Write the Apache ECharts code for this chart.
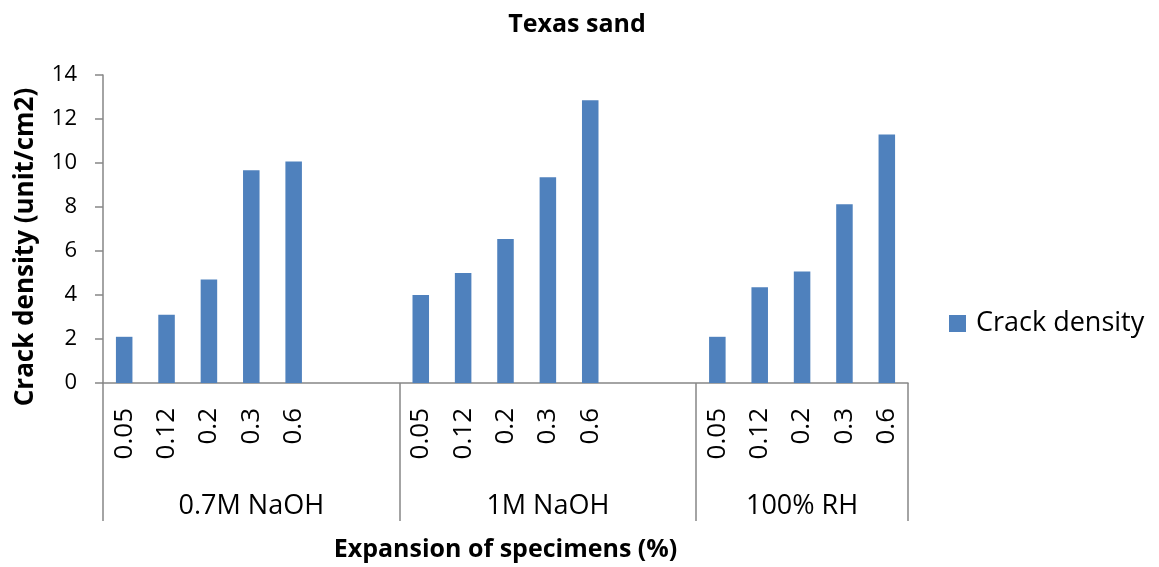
<!DOCTYPE html>
<html>
<head>
<meta charset="utf-8">
<title>Texas sand</title>
<script src="https://cdn.jsdelivr.net/npm/echarts@6/dist/echarts.min.js"></script>
<style>
  html, body { margin: 0; padding: 0; background: #ffffff; }
  #chart { width: 1159px; height: 567px; }
</style>
</head>
<body>
<div id="chart"></div>
<script>
// Exposure conditions and the number of category slots each one occupies
const groupNames = ['0.7M NaOH', '1M NaOH', '100% RH'];
const groupSlots = [7, 7, 5];

// Expansion levels (%) along the axis; empty strings are spacer slots
const expansionLabels = [
  '0.05', '0.12', '0.2', '0.3', '0.6', '', '',
  '0.05', '0.12', '0.2', '0.3', '0.6', '', '',
  '0.05', '0.12', '0.2', '0.3', '0.6'
];

// Crack density (unit/cm2) per slot
const crackDensity = [
  2.1, 3.1, 4.7, 9.67, 10.07, null, null,
  4.0, 5.0, 6.55, 9.35, 12.85, null, null,
  2.1, 4.35, 5.07, 8.12, 11.3
];

// Y axis tick settings
const yMin = 0;
const yMax = 14;
const yStep = 2;

// Group label sits on the middle slot of its block; dividers sit on block edges
const groupAxisData = [];
const groupStarts = [];
let start = 0;
groupSlots.forEach(function (n, g) {
  groupStarts.push(start);
  for (let i = 0; i < n; i++) {
    groupAxisData.push(i === Math.floor(n / 2) ? groupNames[g] : '');
  }
  start += n;
});

const FONT = '"Open Sans", "Liberation Sans", sans-serif';
const AXIS_GREY = '#868686';

const chart = echarts.init(document.getElementById('chart'), null, { renderer: 'canvas' });

chart.setOption({
  animation: false,
  backgroundColor: '#ffffff',
  textStyle: { fontFamily: FONT },
  title: {
    text: 'Texas sand',
    left: 572,
    textAlign: 'center',
    top: 7,
    textStyle: { fontFamily: FONT, fontSize: 25, fontWeight: 'bold', color: '#000000' }
  },
  legend: {
    left: 944,
    top: 305,
    orient: 'vertical',
    icon: 'rect',
    itemWidth: 17,
    itemHeight: 17,
    data: ['Crack density'],
    textStyle: { fontFamily: FONT, fontSize: 27, color: '#000000', padding: [0, 0, 0, 5] }
  },
  grid: { left: 103, right: 251, top: 75, bottom: 183, containLabel: false },
  xAxis: [
    {
      type: 'category',
      data: expansionLabels,
      position: 'bottom',
      boundaryGap: true,
      name: 'Expansion of specimens (%)',
      nameLocation: 'middle',
      nameGap: 154,
      nameTextStyle: { fontFamily: FONT, fontSize: 25, fontWeight: 'bold', color: '#000000' },
      axisLine: { show: true, lineStyle: { color: AXIS_GREY, width: 1.5 } },
      axisTick: { show: false },
      axisLabel: {
        interval: 0,
        rotate: 90,
        margin: 25,
        fontFamily: FONT,
        fontSize: 26,
        color: '#000000'
      },
      splitLine: { show: false }
    },
    {
      type: 'category',
      data: groupAxisData,
      position: 'bottom',
      boundaryGap: true,
      axisLine: { show: false },
      axisTick: {
        show: true,
        length: 138,
        interval: function (index) { return groupStarts.indexOf(index) !== -1; },
        lineStyle: { color: AXIS_GREY, width: 1.5 }
      },
      axisLabel: {
        interval: 0,
        margin: 110,
        fontFamily: FONT,
        fontSize: 27,
        color: '#000000'
      },
      splitLine: { show: false }
    }
  ],
  yAxis: {
    type: 'value',
    min: yMin,
    max: yMax,
    interval: yStep,
    name: 'Crack density (unit/cm2)',
    nameLocation: 'middle',
    nameGap: 64,
    nameTextStyle: { fontFamily: FONT, fontSize: 26, fontWeight: 'bold', color: '#000000', padding: [0, 36, 0, 0] },
    axisLine: { show: true, lineStyle: { color: AXIS_GREY, width: 1.5 } },
    axisTick: { show: true, length: 8, inside: false, lineStyle: { color: AXIS_GREY, width: 1.5 } },
    axisLabel: { margin: 26, fontFamily: FONT, fontSize: 22, color: '#000000' },
    splitLine: { show: false }
  },
  series: [
    {
      name: 'Crack density',
      type: 'bar',
      xAxisIndex: 0,
      data: crackDensity,
      barWidth: '39%',
      itemStyle: { color: '#4F81BD' }
    }
  ]
});
</script>
</body>
</html>
